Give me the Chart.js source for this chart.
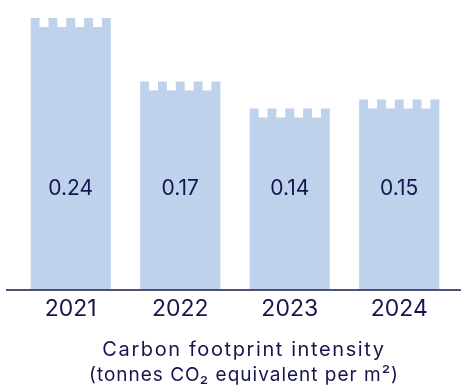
<!DOCTYPE html>
<html>
<head>
<meta charset="utf-8">
<script src="https://cdn.jsdelivr.net/npm/chart.js@4.4.0/dist/chart.umd.min.js"></script>
<style>
    html, body { margin: 0; padding: 0; background: #fff; }
    #wrap { width: 461px; height: 387px; }
</style>
</head>
<body>
<div id="wrap"><canvas id="graficoCarbono"></canvas></div>
<script>
let years = ["2021", "2022", "2023", "2024"];
let intensity = [0.24, 0.17, 0.14, 0.15];
let valueLabels = ["0.24", "0.17", "0.14", "0.15"];
let axisTitle = ["Carbon footprint intensity", "(tonnes CO\u2082 equivalent per m\u00b2)"];

let navy = "#16164f";
let barBlue = "#bed2eb";

// white notches cut into the top of each bar, plus the value text
const castleTops = {
    id: "castleTops",
    afterDatasetsDraw(chart) {
        let ctx = chart.ctx;
        let meta = chart.getDatasetMeta(0);
        let area = chart.chartArea;
        ctx.save();
        meta.data.forEach(function (bar, i) {
            let left = bar.x - bar.width / 2;
            let step = bar.width / 9;
            ctx.fillStyle = "#fff";
            for (let n = 0; n < 4; n++) {
                ctx.fillRect(left + (2 * n + 1) * step, bar.y - 1, step, 10);
            }
            ctx.fillStyle = navy;
            ctx.font = "21px Inter";
            ctx.textAlign = "center";
            ctx.textBaseline = "middle";
            ctx.fillText(valueLabels[i], bar.x, area.bottom - 101);
        });
        // baseline runs a little past the plot on both sides
        ctx.strokeStyle = navy;
        ctx.lineWidth = 1.5;
        ctx.beginPath();
        ctx.moveTo(6, area.bottom + 0.5);
        ctx.lineTo(chart.width, area.bottom + 0.5);
        ctx.stroke();
        ctx.restore();
    }
};

// two-line caption under the year labels, slightly tracked out
const caption = {
    id: "caption",
    afterDraw(chart) {
        let ctx = chart.ctx;
        let area = chart.chartArea;
        let cx = (area.left + area.right) / 2 + 9;
        ctx.save();
        ctx.fillStyle = navy;
        ctx.textAlign = "center";
        ctx.textBaseline = "alphabetic";
        ctx.font = "20px Inter";
        ctx.letterSpacing = "1.6px";
        ctx.fillText(axisTitle[0], cx, area.bottom + 67);
        ctx.font = "19px Inter";
        ctx.letterSpacing = "1px";
        ctx.fillText(axisTitle[1], cx, area.bottom + 92);
        ctx.restore();
    }
};

new Chart(document.getElementById("graficoCarbono"), {
    type: "bar",
    data: {
        labels: years,
        datasets: [{
            data: intensity,
            base: -0.06,
            backgroundColor: barBlue,
            categoryPercentage: 1,
            barPercentage: 0.732
        }]
    },
    options: {
        responsive: true,
        maintainAspectRatio: false,
        animation: false,
        layout: { padding: { left: 16, right: 7, top: 0, bottom: 58 } },
        plugins: {
            legend: { display: false },
            tooltip: { enabled: false }
        },
        scales: {
            y: {
                display: false,
                min: -0.06,
                max: 0.26
            },
            x: {
                grid: { display: false, drawTicks: false },
                border: { display: false },
                ticks: {
                    color: navy,
                    font: { family: "Inter", size: 23 },
                    padding: 6
                }
            }
        }
    },
    plugins: [castleTops, caption]
});
</script>
</body>
</html>
